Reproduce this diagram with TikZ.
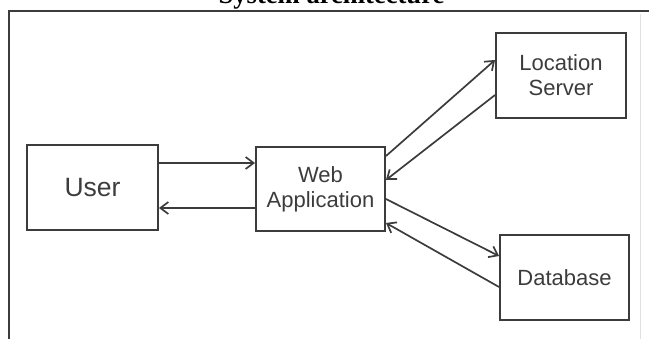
\documentclass[tikz,border=0pt]{standalone}
\usepackage{fontspec}
\setmainfont{Liberation Sans}
\newfontfamily\titlefont{Liberation Serif}
\usetikzlibrary{arrows.meta}

\definecolor{ink}{HTML}{3C3C3C}
\tikzset{
  box/.style={draw=ink, line width=1.9pt, inner sep=0pt, text=ink, align=center,
              font=\fontsize{22}{25}\selectfont},
  link/.style={draw=ink, line width=1.7pt, -{Straight Barb[length=8pt,width=12pt]}},
}

\begin{document}
\begin{tikzpicture}[x=1pt, y=-1pt]
  \useasboundingbox (0,0) rectangle (649,338);

  % frame and heading
  \node[anchor=base, font=\titlefont\bfseries\fontsize{26.6}{30}\selectfont] (title) at (331.5,3) {System architecture};
  \draw[ink, line width=2pt] (9,345) -- (9,11) -- (652,11);
  \draw[black!12, line width=1pt] (640,14) -- (640,345);

  % boxes
  \node[box, minimum width=131, minimum height=85, font=\fontsize{26.5}{30}\selectfont] (user) at (92.5,187.5) {User};
  \node[box, minimum width=129, minimum height=84] (web) at (320.5,189) {Web\\Application};
  \node[box, minimum width=130, minimum height=85] (loc) at (561,75.5) {Location\\Server};
  \node[box, minimum width=129, minimum height=85] (db) at (564.5,277.5) {Database};

  % requests and replies
  \draw[link] ([yshift=24.5]user.east) -- ([yshift=26]web.west);
  \draw[link] ([yshift=-19]web.west) -- ([yshift=-20.5]user.east);
  \draw[link] ([yshift=-10]web.north east) -- ([yshift=15.5]loc.west);
  \draw[link] ([yshift=-19.5]loc.west) -- ([yshift=9]web.east);
  \draw[link] ([yshift=-10]web.east) -- ([yshift=21.5]db.west);
  \draw[link] ([yshift=-9.5]db.west) -- ([yshift=9]web.south east);
\end{tikzpicture}
\end{document}
